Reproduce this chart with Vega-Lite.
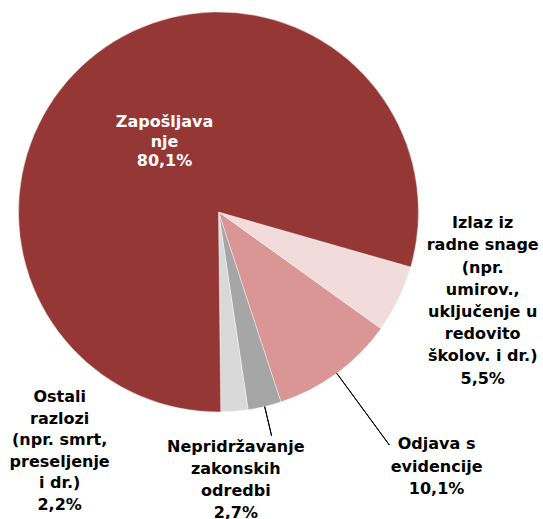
{
  "$schema": "https://vega.github.io/schema/vega-lite/v6.json",
  "width": 437,
  "height": 424,
  "autosize": {"type": "none"},
  "padding": {"left": 0, "top": 0, "right": 106, "bottom": 95},
  "background": "#ffffff",
  "view": {"stroke": null},
  "data": {
    "values": [
      {"rank": 1, "name": "Izlaz iz radne snage", "value": 5.5, "label": "Izlaz iz\nradne snage\n(npr.\numirov.,\nuključenje u\nredovito\nškolov. i dr.)\n5,5%"},
      {"rank": 2, "name": "Odjava s evidencije", "value": 10.1, "label": "Odjava s\nevidencije\n10,1%"},
      {"rank": 3, "name": "Nepridržavanje zakonskih odredbi", "value": 2.7, "label": "Nepridržavanje\nzakonskih\nodredbi\n2,7%"},
      {"rank": 4, "name": "Ostali razlozi", "value": 2.2, "label": "Ostali\nrazlozi\n(npr. smrt,\npreseljenje\ni dr.)\n2,2%"},
      {"rank": 5, "name": "Zapošljavanje", "value": 80.1, "label": "Zapošljava\nnje\n80,1%"}
    ]
  },
  "encoding": {
    "theta": {"field": "value", "type": "quantitative", "stack": true, "scale": {"range": [1.85, 8.133]}},
    "order": {"field": "rank", "type": "quantitative"}
  },
  "layer": [
    {
      "mark": {"type": "arc", "outerRadius": 200, "stroke": "#ffffff", "strokeWidth": 0.4},
      "encoding": {
        "color": {
          "field": "name",
          "type": "nominal",
          "scale": {
            "domain": ["Izlaz iz radne snage", "Odjava s evidencije", "Nepridržavanje zakonskih odredbi", "Ostali razlozi", "Zapošljavanje"],
            "range": ["#F2DCDB", "#D99694", "#A6A6A6", "#D9D9D9", "#953735"]
          },
          "legend": null
        }
      }
    },
    {
      "mark": {"type": "arc", "filled": false, "innerRadius": 200, "outerRadius": 289, "padAngle": 0.8, "stroke": "#000000", "strokeWidth": 1},
      "encoding": {"strokeOpacity": {"condition": {"test": "datum.rank === 2", "value": 1}, "value": 0}}
    },
    {
      "mark": {"type": "arc", "filled": false, "innerRadius": 200, "outerRadius": 230, "padAngle": 0.8, "stroke": "#000000", "strokeWidth": 1},
      "encoding": {"strokeOpacity": {"condition": {"test": "datum.rank === 3", "value": 1}, "value": 0}}
    },
    {
      "mark": {"type": "text", "radius": 89, "dy": -19, "font": "DejaVu Sans", "fontWeight": "bold", "fontSize": 16, "lineBreak": "\n", "lineHeight": 19.5, "align": "center", "baseline": "middle", "fill": "#ffffff"},
      "encoding": {"text": {"condition": {"test": "datum.rank === 5", "field": "label"}, "value": ""}}
    },
    {
      "mark": {"type": "text", "radius": 278, "dx": 14, "dy": -110, "font": "DejaVu Sans", "fontWeight": "bold", "fontSize": 16, "lineBreak": "\n", "lineHeight": 22.2, "align": "center", "baseline": "middle", "fill": "#000000"},
      "encoding": {"text": {"condition": {"test": "datum.rank === 1", "field": "label"}, "value": ""}}
    },
    {
      "mark": {"type": "text", "radius": 335, "dx": 20, "dy": -38, "font": "DejaVu Sans", "fontWeight": "bold", "fontSize": 16, "lineBreak": "\n", "lineHeight": 22.5, "align": "center", "baseline": "middle", "fill": "#000000"},
      "encoding": {"text": {"condition": {"test": "datum.rank === 2", "field": "label"}, "value": ""}}
    },
    {
      "mark": {"type": "text", "radius": 270, "dx": -45, "dy": -28, "font": "DejaVu Sans", "fontWeight": "bold", "fontSize": 16, "lineBreak": "\n", "lineHeight": 22, "align": "center", "baseline": "middle", "fill": "#000000"},
      "encoding": {"text": {"condition": {"test": "datum.rank === 3", "field": "label"}, "value": ""}}
    },
    {
      "mark": {"type": "text", "radius": 240, "dx": -178, "dy": -54, "font": "DejaVu Sans", "fontWeight": "bold", "fontSize": 16, "lineBreak": "\n", "lineHeight": 21.5, "align": "center", "baseline": "middle", "fill": "#000000"},
      "encoding": {"text": {"condition": {"test": "datum.rank === 4", "field": "label"}, "value": ""}}
    }
  ]
}
